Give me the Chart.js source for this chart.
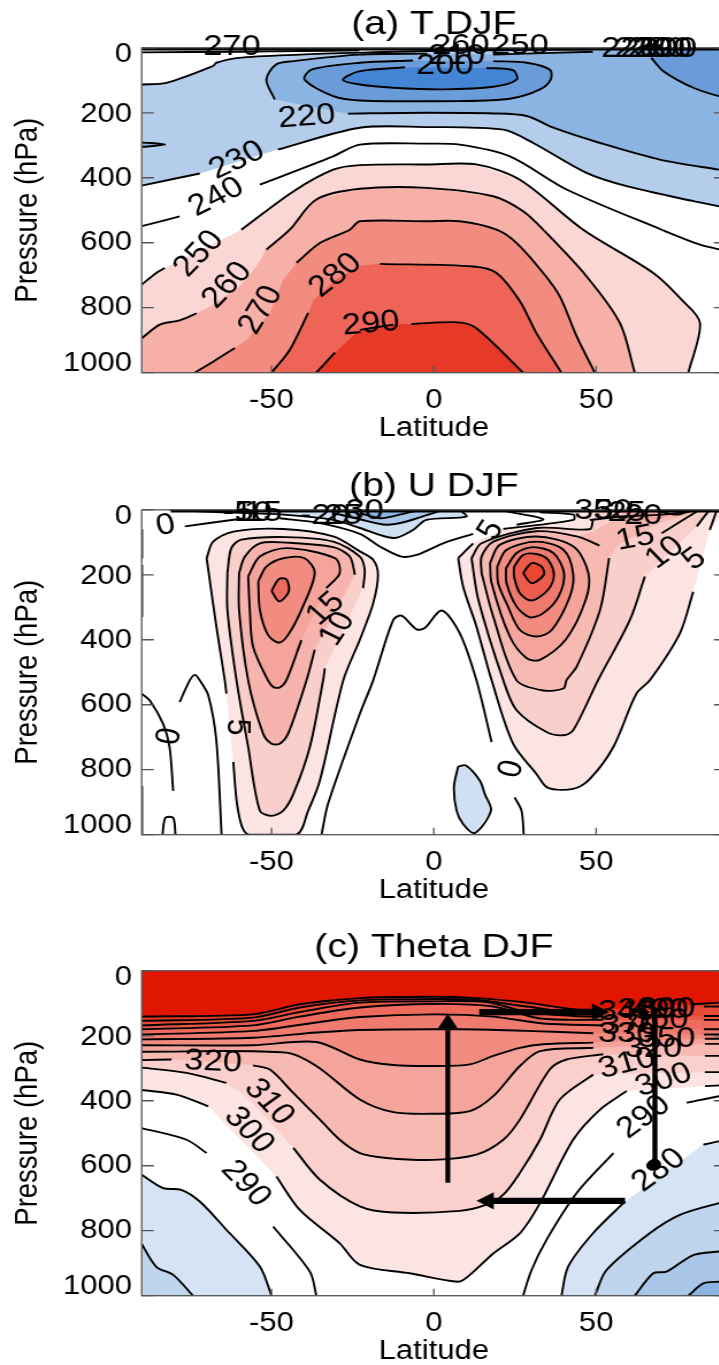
<!DOCTYPE html>
<html>
<head>
<meta charset="utf-8">
<title>T, U, Theta DJF</title>
<script src="https://cdn.jsdelivr.net/npm/chart.js@4/dist/chart.umd.min.js"></script>
<style>
  html, body { margin: 0; padding: 0; background: #fff; overflow: hidden; width: 719px; height: 1365px; }
  #page { position: relative; width: 719px; height: 1365px; overflow: hidden; }
  /* the source figure is stretched sideways, so the canvases are too */
  canvas { position: absolute; left: 0; transform: scaleX(1.15); transform-origin: 0 0; }
</style>
</head>
<body>
<div id="page">
  <canvas id="panelA" width="635" height="450" style="top:0;width:635px;height:450px"></canvas>
  <canvas id="panelB" width="635" height="450" style="top:461.7px;width:635px;height:450px"></canvas>
  <canvas id="panelC" width="635" height="450" style="top:923.4px;width:635px;height:450px"></canvas>
</div>
<script>
// ── AXES
const xTicks = [-50, 0, 50];
const yTicks = [0, 200, 400, 600, 800, 1000];
const yTickNudge = [7, 2, 1, 0, 0, -9]; // the source shifts its end labels inward

// ── (a) T DJF: contours as [latitude, hPa], null = break for a label
// a lone point between two nulls only shapes the fill under the label
const t290 = [[-36.2,1000],[-30.5,938],null,[-22.8,868],[-12.5,852],null,[-6.9,850],[7.5,845],[13.1,863],[27.5,1000]];
const t280 = [[-50,1000],[-44.4,930],[-38.7,816],null,[-37,775],null,[-30,712],null,[-22.8,671],null,[-16.6,665],[12.1,673],[19.3,693],[26.5,780],[31.6,878],[39.3,1000]];
const t270 = [[-73.7,1000],[-68,966],[-61.3,924],null,[-57.7,899],null,[-50.5,816],null,[-46.4,714],null,[-42.3,662],[-35.1,601],[-25.9,560],[-22.8,534],[-2.3,534],[8,534],[19.3,560],[25.5,601],[33.7,693],[38.8,765],[44,888],[49.6,1000]];
const t260 = [[-90,894],[-84.4,852],[-78.3,839],[-73.1,817],null,[-68,791],null,[-59.8,734],null,[-54.6,673],null,[-51.6,621],[-44.4,560],[-36.2,467],[-22.8,434],[-2.3,431],[18.3,457],[27.5,503],[33.7,560],[47,703],[57.3,847],[61.9,1000]];
const t250 = [[-90,729],[-85.5,693],[-82.9,678],null,[-59.3,560],[-43.3,442],[-31,375],[-22.8,361],[-2.3,359],[13.1,359],[26.5,406],[46,560],[67.6,693],[76.3,775],[82,847],[78.4,1000]];
const t240 = [[-90,549],[-78.3,519],null,[-53.6,421],[-31,334],[-22.8,298],[-2.3,295],[8,298],[23.4,334],[40.9,436],[70.2,560],[82,606],[90,625]];
const t230 = [[-90,424],[-72.1,387],null,[-48,313],[-22.8,246],[-2.3,244],[21.4,252],[30.6,293],[47,385],[59.4,426],[79.9,472],[90,492]];
const t230Top = [[-90,113],[-82.4,108],[-68,56],[-67,46],[-60.3,31],[-41.3,21],[-22.8,15],[-2,10],[49,5]];
const t220 = [[49,12],[18.3,21],null,[-2,18],[-22.8,21],[-43.3,41],[-48.5,51],[-51.6,98],[-49,159],null,[-26.4,203],[-22.8,202],[-2.3,200],[18.3,202],[28.6,210],[36.8,246],[51.2,293],[69.6,344],[87.8,375],[90,378]];
const t220Lens = [[-90,291],[-82.8,298],[-90,305]];
const t210 = [[18.3,41],[28.6,46],[35.7,67],[36,98],[32.7,128],[23.4,157],[8,164],[-22.8,162],[-31,149],[-39.8,98],[-37.7,67],[-22.8,46],[-6.4,39]];
const t210Right = [[67,31],[70.7,72],[79.9,123],[87.8,149],[90,151]];
const t200 = [[16.2,62],[24.4,69],[25.5,98],[18.3,120],[2.9,128],[-12.5,123],[-22.8,113],[-28,98],[-22.8,72],[-8.9,60]];
const tTopEdge = [[-90,2],[90,2]];
const tTopSecond = [[-90,14],[-60,12],[-40,10],[-23,8]];
const tLabelText = ['270','260','250','210','200','220','230','280','290','300','220','230','240','250','260','270','280','290'];
const tLabelLat  = [-62.2,8.3,26.5,7,3.4,60.4,64.5,68.6,70.7,72.2,-39.2,-60.8,-67.2,-72.6,-63.9,-53.6,-30.5,-19.4];
const tLabelHpa  = [-7,-8,-8,22,51,0,0,0,0,0,210,344,457,632,729,806,698,847];
const tLabelRot  = [0,0,0,0,0,0,0,0,0,0,-5,-28,-30,-50,-50,-62,-42,-6];

// ── (b) U DJF: left jet
const uW30 = [[-50,249],[-47.7,213],[-45.4,214],[-44.7,252],[-47.7,282]];
const uW25 = [[-54.1,221],[-51.6,175],[-46.4,149],[-39.8,149],[-36.7,195],[-40.8,308],[-44.9,385],[-47.7,409],[-51.1,385],[-53.6,308]];
const uW20 = [[-57.2,205],[-53.6,144],[-45.4,118],[-30.5,149],[-29,195],[-33.1,241],null,[-40.8,401],[-45.4,524],[-47.5,547],[-49.5,545],[-51.1,525],[-55.7,421],[-56.7,308]];
const uW15 = [[-60,195],[-58.2,144],[-53.6,103],[-45.4,101],[-31,115],[-25.9,144],[-24.3,200],null,[-36.7,431],[-39.2,524],[-44.9,689],[-47.5,720],[-50,720],[-52.6,689],[-57.2,525],[-60,308]];
const uW10 = [[-63.6,195],[-62.4,118],[-59.3,92],[-45.4,84],[-31,98],[-22.8,144],[-21.3,185],[-21.8,241],null,[-33.6,488],[-34.1,524],[-38.2,730],[-43.3,875],[-46.4,926],[-50,942],[-53.6,926],[-57.2,730],[-60.8,525],[-63.6,308]];
const uW5 = [[-70,149],[-68,98],[-61.8,67],[-46.4,59],[-31,82],[-22.8,128],[-18.7,154],[-17.2,200],[-18.7,288],[-22.8,400],[-27.9,525],[-35.1,833],[-38.7,926],[-42.3,1000],[-57.2,1000],[-60.3,926],[-61.8,776],null,[-63.9,566],[-64.4,525],[-67,359]];
// right jet
const uE40 = [[27.5,195],[30.1,164],[33.2,175],[33.9,200],[30.1,226]];
const uE35 = [[24.7,175],[27.5,139],[31.6,136],[35.2,154],[37,200],[35.2,246],[30.1,279],[26.5,257],[24.7,205]];
const uE30 = [[22.2,180],[25.5,133],[30.6,115],[36.8,133],[40.1,195],[38.4,267],[33.7,318],[29.6,331],[25.5,298],[22.4,226]];
const uE25 = [[19.5,175],[22.4,123],[31.6,98],[39.9,123],[42.9,195],[41.9,267],[36.3,370],[31.6,390],[26.5,370],[22.4,288],[19.8,226]];
const uE20 = [[17.3,164],[20.3,108],[31.6,82],[43,113],[47.6,195],[46.8,277],[40.6,400],[32.7,462],[28.6,457],[23.4,390],[17.8,226]];
const uE15 = [[14.7,195],[14.7,144],[18.3,98],[31.6,66],[44,82],[49,67],[56.3,26],[60,0],[83,2],[69.6,41],[56.8,108],[54,149],[51.2,308],[44,483],[40.9,524],[39.9,550],[33.7,556],[25.5,525],[18.3,329]];
const uE15Line = [[14.7,195],[14.7,144],[18.3,98],[31.6,66],[44,82],[51,110],null,[54,149],[51.2,308],[44,483],[40.9,524],[39.9,550],[33.7,556],[25.5,525],[18.3,329],[14.7,195]];
const uE10 = [[11.6,149],[14.7,103],[31.6,56],[48,60],[49,31],[50,0],[86,0],[81,51],[65,205],[60.4,339],[50.6,524],[42.9,679],[39.9,694],[34.7,684],[25.5,617],[21.4,525],[13.7,277]];
const uE10Line = [[11.6,149],[14.7,103],[31.6,56],[48,60],[49,31],null,[65,205],[60.4,339],[50.6,524],[42.9,679],[39.9,694],[34.7,684],[25.5,617],[21.4,525],[13.7,277],[11.6,149]];
const uE5 = [[7.5,149],[12.1,103],[21.4,59],[43,31],[43,15],[32.7,8],[30.6,0],[90,0],[85,62],[79.9,252],[75.8,380],[66.6,524],[62.4,566],[55.3,730],[48,829],[42.9,859],[35.2,856],[31.6,813],[24.4,720],[17.8,525],[13.1,359],[9,236]];
const uE5Line = [[7.5,149],[12.1,103],null,[21.4,59],[43,31],[43,15],[32.7,8],null,[79.9,252],[75.8,380],[66.6,524],[62.4,566],[55.3,730],[48,829],[42.9,859],[35.2,856],[31.6,813],[24.4,720],[17.8,525],[13.1,359],[9,236],[7.5,149]];
const uTip = [[25.5,46],[33.7,29],[22.4,5]];
const uFan5 = [[87,5],[85,62]];
const uFan10 = [[84.5,5],[81,51]];
const uFan15 = [[81,5],[70.2,72]];
const uFan20 = [[48,31],[59,20],[70,15],[80,3]];
const uWedge20 = [[55,0],[65.5,36],[81,0]];
const uWedge25 = [[67.6,0],[74.8,15],[80,0]];
// zero line and the easterlies
const uZeroMid = [[-34.6,1000],[-32.6,905],[-22.8,628],[-18.7,525],[-12.5,339],[-10,326],[-5.3,368],[-2.8,364],[2.4,310],[8,380],[13.1,524],[17.8,715],null,[24.9,885],[27,926],[27.7,1000]];
const uZeroLeft = [[-90,566],[-87.5,587],[-83.4,659],[-81.4,731],[-80.3,865]];
const uZeroHill = [[-78.3,592],[-75.2,525],[-73.6,508],[-72.1,525],[-69.5,571],[-67,710],[-65.4,1000]];
const uZeroFoot = [[-83.6,1000],[-82.7,948],[-80.3,948],[-79.6,1000]];
const uZeroTop = [[-76.7,51],[-58.2,26],null,[-47.5,26],[-35.1,41],[-22.8,74],[-16.6,113],[-10,144],[-5.3,139],[2.9,103],[12.1,74]];
const uEdge1 = [[-90,60],[-90,150]];
const uEdge2 = [[-90,170],[-90,330]];
const uEdge3 = [[-90,850],[-90,1000]];
const uBlueBlob = [[7.5,790],[9.9,787],[14.2,834],[15.7,875],[17.6,926],[12.6,995],[9,967],[7,926],[6.2,852]];
const uBlue1 = [[-81.4,0],[-67,7],[-46.4,15],[-31,31],[-22.8,56],[-12.5,87],[-6.4,62],[-2.3,31],[10,21],[8,0]];
const uBlue2 = [[-31,10],[-22.8,29],[-14.6,46],[-8.4,36],[-0.2,10],[2.9,0]];
const uBlue3 = [[-22.8,10],[-16.6,26],[-10.5,15],[-4.3,0]];
const uTopEdge = [[-81,2],[90,2]];
const uLabelText = ['0','-5','10','15','-20','25','30','35','30','25','20','15','10','5','15','10','5','0','5','0'];
const uLabelLat  = [-82.7,-60.3,-55.7,-52.6,-33.6,-28,-21.3,49.1,55.3,59.4,64.5,62,71,80,-33.6,-30,-60.3,-81.7,17.3,23.6];
const uLabelHpa  = [46,5,5,5,15,15,0,0,0,5,15,85,130,150,303,365,669,697,62,797];
const uLabelRot  = [-10,0,0,0,0,0,0,0,0,0,0,-12,-40,-40,-45,-60,90,-80,-60,-75];

// ── (c) Theta DJF
const th1 = [[-90,141],[-55.7,134],[-41.3,103],[-22.8,84],[0,80],[13.1,84],[28.6,98],[42.9,118],[52.2,120],null,[79.9,103],[87.8,98],[90,98]];
const th2 = [[-90,154],[-55.7,144],[-41.3,113],[-22.8,91],[0,87],[13.1,90],[28.6,110],[42.9,129],[52.2,131],null,[83.2,110],[90,110]];
const th3 = [[-90,168],[-55.7,154],[-41.3,127],[-22.8,98],[0,94],[16.2,96],[28.6,127],[42.9,139],[52.2,141],null,[83.2,139],[90,139]];
const th4 = [[-90,180],[-55.7,168],[-41.3,141],[-22.8,113],[0,102],[18.3,110],[32.7,147],[52.2,151],null,[83.2,151],[90,151]];
const th5 = [[-90,196],[-55.7,185],[-36.2,159],[-22.8,142],[0,134],[18.3,141],[33.7,162],[52.2,168],null,[83.2,180],[90,180]];
const th6 = [[-90,211],[-55.7,206],[-36.2,190],[-22.8,182],[8,180],[28.6,185],[49.1,192],null,[83.2,196],[90,196]];
const th7 = [[-90,229],[-55.7,229],[-36.2,219],[-22.8,273],[-12.5,290],[0,293],[11.1,288],[18.3,262],[26.5,237],[33.7,226],[49.1,221],null,[83.5,209],[90,209]];
const th8 = [[-90,249],[-45.4,252],[-36.2,293],[-22.8,396],[-12.5,435],[0,440],[11.1,432],[18.3,386],[26.5,293],[32.7,247],[49.1,237],null,[83.5,225],[90,225]];
const th9 = [[-90,275],[-80.8,273],null,[-55.7,291],[-50.5,304],[-43.3,376],[-35.1,458],[-29,520],[-22.8,561],[-14.6,576],[0,582],[13.1,566],[21.4,520],[26.5,458],[35.7,304],[40.9,273],[52.2,257],null,[83.5,262],[90,262]];
const th10 = [[-90,298],[-76.2,314],[-63.9,345],null,[-58,385],null,[-50,470],null,[-43.3,545],[-35.1,643],[-22.8,725],[-12.5,744],[8,739],[16.2,720],[21.4,689],[26.5,622],[32.7,520],[38.8,396],[49.1,319],null,[83.5,312],[90,312]];
const th11 = [[-90,367],[-79.3,381],[-69.5,417],null,[-48.5,633],[-41.3,736],[-29,839],[-22.8,905],[-7.4,931],[7.5,957],[11.1,936],[18.3,870],[26.5,808],[32.7,715],[42.9,520],[51.2,427],[59.4,370],null,[83.5,355],[90,352]];
const th12Left = [[-90,484],[-76.2,520],[-70,561],null,[-49.5,787],[-38.2,926],[-36.2,1000]];
const th12Right = [[27.5,1000],[30.1,921],[34.7,828],[44,684],[55.3,561],null,[77.9,406],[87.8,386],[90,384]];
const th13Left = [[-90,628],[-83.4,669],[-77.8,674],[-72.1,710],[-63.9,797],[-53.6,910],[-50,1000]];
const th13Right = [[39.3,1000],[41.4,910],[49.1,807],[58.9,710],null,[83,535],[87.8,525],[90,522]];
const th14Left = [[-90,841],[-85.5,911],[-80.3,936],[-74.2,1000]];
const th14Right = [[49.6,1000],[53.2,921],[66.6,807],[75.8,751],[87.8,715],[90,712]];
const th15 = [[61.9,1000],[67.6,931],[71.7,926],[79.9,875],[87.8,864],[90,862]];
const th16 = [[78.4,1000],[83,962],[87.8,957],[90,956]];
const thLabelText = ['320','310','300','290','280','290','300','310','320','330','340','350','360','370','380','390','400'];
const thLabelLat  = [-68,-50.5,-56.7,-57.7,69.1,64.5,70.7,59.4,67.6,59.4,59.4,71.7,69.6,60.4,65.5,71.7,69.6];
const thLabelHpa  = [278,402,489,653,612,448,334,283,237,190,123,206,149,165,118,113,118];
const thLabelRot  = [3,50,50,50,-40,-40,-20,-15,0,0,0,0,0,0,0,0,0];
// annotation arrows
const arrowUp = [[4.3,652],[4.3,162]];
const arrowRight = [[14,127],[50.5,127]];
const arrowLeft = [[58.9,708],[16.7,708]];
const stemDot = [[68.1,118],[68.1,597]];

// ── HELPERS
const toPts = a => a.map(q => (q ? { x: q[0], y: q[1] } : { x: null, y: null }));
const rev = a => [...a].reverse();
const ring = a => [...a, a[0]];
const shape = (color, ...parts) => ({ color, pts: parts.flat().filter(Boolean) });
const stroke = (pts, width = 1.9) => ({ pts, width });

// draws the contour labels, the frame, the inward ticks and the y tick labels
const framePlugin = {
  id: 'frameLabels',
  afterDatasetsDraw(chart, args, opts) {
    const { ctx, chartArea: a, scales: { x, y } } = chart;
    ctx.save();
    ctx.strokeStyle = '#555';
    ctx.lineWidth = 1.3;
    ctx.strokeRect(a.left, a.top, a.right - a.left, a.bottom - a.top);
    ctx.beginPath();
    yTicks.forEach(v => {
      const py = y.getPixelForValue(v);
      ctx.moveTo(a.left, py); ctx.lineTo(a.left + 10.5, py);
      ctx.moveTo(a.right, py); ctx.lineTo(a.right - 10.5, py);
    });
    xTicks.forEach(v => {
      const px = x.getPixelForValue(v);
      ctx.moveTo(px, a.bottom); ctx.lineTo(px, a.bottom - 7);
    });
    ctx.stroke();
    ctx.fillStyle = '#000';
    ctx.textBaseline = 'middle';
    ctx.font = '27px "Liberation Sans"';
    ctx.textAlign = 'right';
    yTicks.forEach((v, i) => {
      ctx.fillText(String(v), a.left - 8.5, y.getPixelForValue(v) + yTickNudge[i]);
    });
    ctx.font = '30px "Liberation Sans"';
    ctx.textAlign = 'center';
    opts.text.forEach((t, i) => {
      ctx.save();
      ctx.translate(x.getPixelForValue(opts.lat[i]), y.getPixelForValue(opts.hpa[i]));
      ctx.rotate(opts.rot[i] * Math.PI / 180);
      ctx.fillText(t, 0, 1);
      ctx.restore();
    });
    ctx.restore();
  }
};

function criarPainel(id, titulo, fills, lines, labels, extras = []) {
  const bottomUp = [
    ...fills.map(f => ({ data: toPts(f.pts), borderWidth: 0, backgroundColor: f.color, fill: 'shape', tension: 0 })),
    ...lines.map(l => ({ data: toPts(l.pts), borderWidth: l.width, borderColor: '#000', fill: false, tension: 0.3 })),
    ...extras
  ];
  bottomUp.forEach((d, i) => {
    d.order = bottomUp.length - i;
    if (d.pointRadius === undefined) d.pointRadius = 0;
    d.borderCapStyle = 'butt';
    d.borderJoinStyle = 'round';
  });
  return new Chart(document.getElementById(id), {
    type: 'line',
    data: { datasets: bottomUp },
    plugins: [framePlugin],
    options: {
      responsive: false,
      animation: false,
      events: [],
      layout: { autoPadding: false, padding: { left: 0, right: 3.7, top: 0, bottom: 0 } },
      plugins: {
        legend: { display: false },
        tooltip: { enabled: false },
        title: {
          display: true, text: titulo, fullSize: false, color: '#000',
          font: { size: 34, weight: 'normal' }, padding: { top: 4, bottom: 3 }
        },
        frameLabels: labels
      },
      scales: {
        x: {
          type: 'linear', min: -90, max: 90,
          afterBuildTicks: s => { s.ticks = xTicks.map(v => ({ value: v })); },
          afterFit: s => { s.height = 77.3; },
          grid: { display: false }, border: { display: false },
          ticks: { color: '#000', font: { size: 27 }, padding: 4, maxRotation: 0, autoSkip: false, callback: v => String(v) },
          title: { display: true, text: 'Latitude', color: '#000', font: { size: 27 }, padding: { top: 0, bottom: 5 } }
        },
        y: {
          type: 'linear', reverse: true, min: 0, max: 1000,
          afterBuildTicks: s => { s.ticks = yTicks.map(v => ({ value: v })); },
          afterFit: s => { s.width = 123.2; },
          grid: { display: false }, border: { display: false },
          ticks: { display: false },
          title: { display: true, text: 'Pressure (hPa)', color: '#000', font: { size: 27.5 }, padding: { top: 8, bottom: 0 } }
        }
      }
    }
  });
}

Chart.defaults.font.family = '"Liberation Sans"';

// ── PANELS
criarPainel('panelA', '(a) T DJF',
  [
    shape('#b3cdeb', t230, [[90, 0]], rev(t230Top)),
    shape('#8cb4e2', t220, [[90, 0], [55, 0]]),
    shape('#8cb4e2', t220Lens),
    shape('#6a9cda', t210),
    shape('#6a9cda', t210Right, [[90, 0], [67, 0]]),
    shape('#4285d4', t200),
    shape('#fad7d4', t250, [[-90, 1000]]),
    shape('#f6b0a8', t260, [[-90, 1000]]),
    shape('#f28b80', t270),
    shape('#ee6456', t280),
    shape('#e73a26', t290)
  ],
  [
    stroke(t290), stroke(t280), stroke(t270), stroke(t260), stroke(t250), stroke(t240), stroke(t230),
    stroke(t230Top), stroke(t220), stroke(t220Lens), stroke(t210), stroke(t210Right), stroke(t200),
    stroke(tTopSecond), stroke(tTopEdge, 4)
  ],
  { text: tLabelText, lat: tLabelLat, hpa: tLabelHpa, rot: tLabelRot }
);

criarPainel('panelB', '(b) U DJF',
  [
    shape('#cfe0f2', uBlue1),
    shape('#cfe0f2', uBlueBlob),
    shape('#a9c6e8', uBlue2),
    shape('#8cb4e2', uBlue3),
    shape('#fce4e2', uW5),
    shape('#f9cfcb', uW10),
    shape('#f7b4ae', uW15),
    shape('#f5a49c', uW20),
    shape('#f28b80', uW25),
    shape('#ee6a5c', uW30),
    shape('#fce4e2', uE5),
    shape('#f9cfcb', uE10),
    shape('#f7bab3', uE15),
    shape('#f5a49c', uWedge20),
    shape('#f08a7e', uWedge25),
    shape('#f5a49c', uE20),
    shape('#f28b80', uE25),
    shape('#ee7a6e', uE30),
    shape('#ec5b4b', uE35),
    shape('#e9472f', uE40)
  ],
  [
    stroke(ring(uW30)), stroke(ring(uW25)), stroke(ring(uW20)), stroke(ring(uW15)), stroke(ring(uW10)), stroke(ring(uW5)),
    stroke(ring(uE40)), stroke(ring(uE35)), stroke(ring(uE30)), stroke(ring(uE25)), stroke(ring(uE20)),
    stroke(uE15Line), stroke(uE10Line), stroke(uE5Line), stroke(uTip),
    stroke(uFan5), stroke(uFan10), stroke(uFan15), stroke(uFan20), stroke(uWedge25),
    stroke(uZeroMid), stroke(uZeroLeft), stroke(uZeroHill), stroke(uZeroFoot), stroke(uZeroTop),
    stroke(uEdge1, 2.4), stroke(uEdge2, 2.4), stroke(uEdge3, 2.4),
    stroke(ring(uBlueBlob)),
    stroke(uBlue1), stroke(uBlue2), stroke(uBlue3), stroke(uTopEdge, 4)
  ],
  { text: uLabelText, lat: uLabelLat, hpa: uLabelHpa, rot: uLabelRot }
);

const seta = (pts, width, radius, style, rotation) => ({
  data: toPts(pts), borderWidth: width, borderColor: '#000', fill: false, tension: 0,
  pointRadius: [0, radius], pointStyle: style, pointRotation: [0, rotation],
  pointBackgroundColor: '#000', pointBorderColor: '#000', pointBorderWidth: 0
});

criarPainel('panelC', '(c) Theta DJF',
  [
    shape('#d5e3f4', th13Left, [[-90, 1000]]),
    shape('#bfd5ee', th14Left, [[-90, 1000]]),
    shape('#d5e3f4', th13Right, [[90, 1000]]),
    shape('#bfd5ee', th14Right, [[90, 1000]]),
    shape('#a9c6e8', th15, [[90, 1000]]),
    shape('#8cb4e2', th16, [[90, 1000]]),
    shape('#fce4e2', th11, [[90, 0], [-90, 0]]),
    shape('#fbd0cc', th10, [[90, 0], [-90, 0]]),
    shape('#f7bab3', th9, [[90, 0], [-90, 0]]),
    shape('#f5a49c', th8, [[90, 0], [-90, 0]]),
    shape('#f28b80', th7, [[90, 0], [-90, 0]]),
    shape('#ef7a6e', th6, [[90, 0], [-90, 0]]),
    shape('#ed6a5c', th5, [[90, 0], [-90, 0]]),
    shape('#ea5947', th4, [[90, 0], [-90, 0]]),
    shape('#e84a38', th3, [[90, 0], [-90, 0]]),
    shape('#e63a28', th2, [[90, 0], [-90, 0]]),
    shape('#e11600', th1, [[90, 0], [-90, 0]])
  ],
  [th1, th2, th3, th4, th5, th6, th7, th8, th9, th10, th11, th12Left, th12Right,
   th13Left, th13Right, th14Left, th14Right, th15, th16].map(c => stroke(c)),
  { text: thLabelText, lat: thLabelLat, hpa: thLabelHpa, rot: thLabelRot },
  [
    seta(arrowUp, 4.2, 10, 'triangle', 0),
    seta(arrowRight, 6.2, 10, 'triangle', 90),
    seta(arrowLeft, 6.2, 10, 'triangle', -90),
    seta(stemDot, 4.4, 5.5, 'circle', 0)
  ]
);
</script>
</body>
</html>
